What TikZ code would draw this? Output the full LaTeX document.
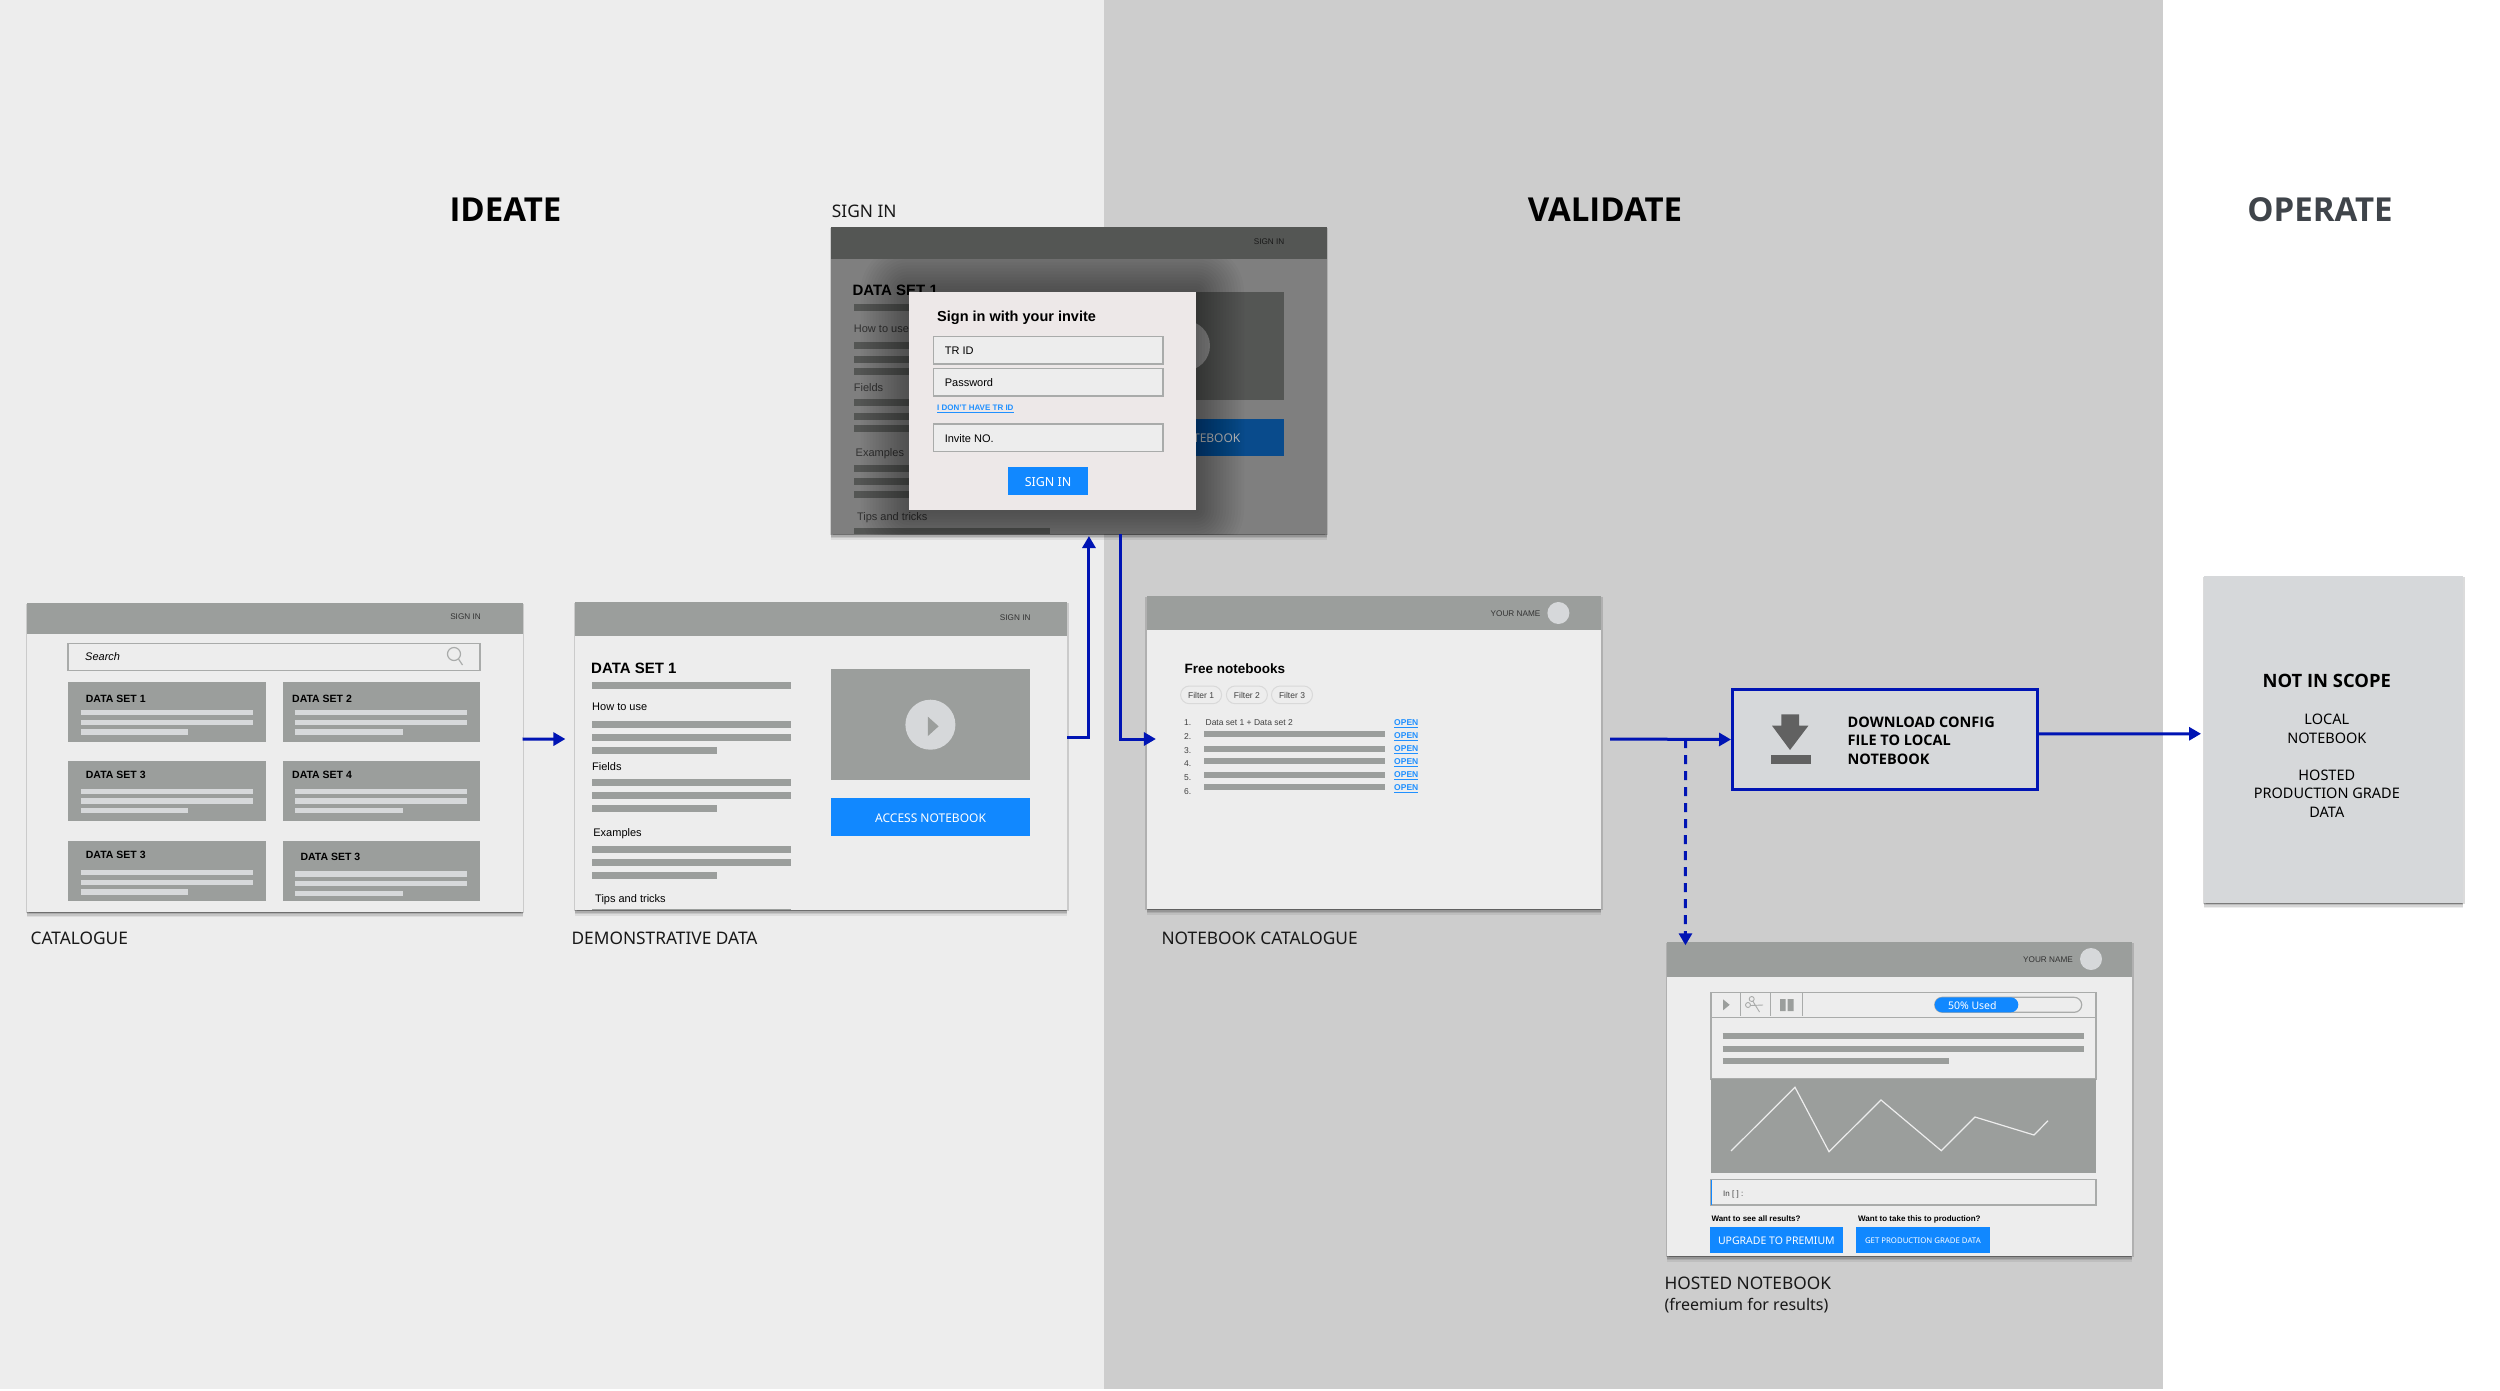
\documentclass[tikz,border=0pt]{standalone}
\usepackage{fontspec}
\setmainfont{Liberation Sans}
\newfontfamily\labelfont{Noto Sans}
\newfontfamily\labelbold{Open Sans}
\usetikzlibrary{arrows.meta,shadows}
\definecolor{ideatebg}{HTML}{EDEDED}
\definecolor{validatebg}{HTML}{CDCDCD}
\definecolor{headgrey}{HTML}{9B9E9C}
\definecolor{dimgrey}{HTML}{545654}
\definecolor{dimbody}{HTML}{7F7F7F}
\definecolor{palegrey}{HTML}{D6D8DA}
\definecolor{linegrey}{HTML}{A9ABAA}
\definecolor{btnblue}{HTML}{1188FF}
\definecolor{linkblue}{HTML}{2090FF}
\definecolor{flowblue}{HTML}{0014B4}
\definecolor{operategrey}{HTML}{3F444A}
\begin{document}
\begin{tikzpicture}[
    x=1pt,y=-1pt,
    softshadow/.style={drop shadow={shadow xshift=0pt,shadow yshift=-1pt,opacity=.12,fill=black},
                       drop shadow={shadow xshift=0pt,shadow yshift=-2.5pt,opacity=.12,fill=black},
                       drop shadow={shadow xshift=0pt,shadow yshift=-4pt,opacity=.1,fill=black},
                       drop shadow={shadow xshift=0pt,shadow yshift=-5.5pt,opacity=.07,fill=black},
                       drop shadow={shadow xshift=1.5pt,shadow yshift=-1pt,opacity=.14,fill=black},
                       drop shadow={shadow xshift=-1.5pt,shadow yshift=-1pt,opacity=.14,fill=black}},
    screen/.style={anchor=north west,fill=ideatebg,inner sep=0pt,outer sep=0pt,softshadow},
    panel/.style={anchor=north west,inner sep=0pt,outer sep=0pt},
    field/.style={panel,draw=linegrey,line width=1.6pt,fill=ideatebg},
    button/.style={panel,fill=btnblue,text=white},
    ui/.style={anchor=west,inner sep=0pt,text depth=0pt,yshift=-.7pt,font=\fontsize{#1}{#1}\selectfont},
    uiend/.style={ui=#1,anchor=east},
    uicentre/.style={ui=#1,anchor=center},
    lab/.style={anchor=west,inner sep=0pt,text depth=0pt,yshift=-.7pt,
                font=\labelfont\fontsize{#1}{#1}\selectfont},
    labcentre/.style={lab=#1,anchor=center},
    labbold/.style={lab=#1,font=\labelbold\bfseries\fontsize{#1}{#1}\selectfont},
    caption/.style={lab=17.3,text=black!90},
    stage/.style={anchor=center,inner sep=0pt,text depth=0pt,
                  font=\labelbold\bfseries\fontsize{33}{33}\selectfont},
    heavybar/.style={line width=7pt,draw=headgrey},
    dimbar/.style={line width=7pt,draw=dimgrey},
    thinbar/.style={line width=5.5pt,draw=palegrey},
    rowbar/.style={line width=6pt,draw=headgrey},
    flow/.style={-{Triangle[length=12pt,width=13pt]},line width=3pt,draw=flowblue}
  ]
    \useasboundingbox (0,0) rectangle (2500,1390);

    \fill[ideatebg] (0,0) rectangle (1104,1389);
    \fill[validatebg] (1104,0) rectangle (2163,1389);

    \node[stage] (ideate) at (505.5,210) {IDEATE};
    \node[stage] (validate) at (1605,210) {VALIDATE};
    \node[stage,text=operategrey] (operate) at (2320,210) {OPERATE};

    \node[screen,minimum width=495.5pt,minimum height=309pt] (catalogue) at (27,602.7) {};
    \fill[headgrey] (27,602.7) rectangle (522.5,634);
    \node[uiend=8.2,text=black!80] (catsign) at (481,615.7) {SIGN IN};
    \node[field,minimum width=412pt,minimum height=27pt] (search) at (68,643.3) {};
    \node[ui=11] (searchtext) at (85,656) {\itshape Search};
    \draw[linegrey,line width=1.2pt] (454,654) circle (6.5) (458.5,659) -- (462.5,665);
    \foreach \n/\x/\y in {a/68/681.7,b/282.5/681.7,c/68/761.3,d/282.5/761.3,e/68/841.3,f/282.5/841.3}
      \node[panel,fill=headgrey,minimum width=197.5pt,minimum height=60pt] (card\n) at (\x,\y) {};
    \foreach \n/\x/\y/\t in {a/85.7/697.7/1,b/292/697.7/2,c/85.7/773.7/3,d/292/773.7/4,e/85.7/854.3/3,f/300.4/855.7/3}
      \node[ui=10.5] (cardtitle\n) at (\x,\y) {\bfseries DATA SET \t};
    \foreach \a/\b/\c in {712.7/722.3/732,791.3/801/810.7,872.3/882.3/892}{
      \draw[thinbar] (80.7,\a) -- (252.9,\a);
      \draw[thinbar] (80.7,\b) -- (252.9,\b);
      \draw[thinbar] (80.7,\c) -- (188,\c);
    }
    \foreach \a/\b/\c in {712.7/722.3/732,791.3/801/810.7,874/883.7/893.3}{
      \draw[thinbar] (294.6,\a) -- (467,\a);
      \draw[thinbar] (294.6,\b) -- (467,\b);
      \draw[thinbar] (294.6,\c) -- (402.9,\c);
    }
    \node[caption] (cataloguelabel) at (30.4,937.7) {CATALOGUE};

    \node[screen,minimum width=491.6pt,minimum height=308pt] (demo) at (575.4,602) {};
    \fill[headgrey] (575.4,602) rectangle (1067,635.7);
    \node[uiend=8.2,text=black!80] (demosign) at (1030.7,617) {SIGN IN};
    \node[ui=15] (demotitle) at (591,667.3) {\bfseries DATA SET 1};
    \draw[heavybar] (592,685) -- (791.4,685);
    \node[ui=11] (demohow) at (592,706) {How to use};
    \node[ui=11] (demofields) at (592,766.3) {Fields};
    \node[ui=11] (demoexamples) at (593.2,832) {Examples};
    \node[ui=11] (demotips) at (595,897.7) {Tips and tricks};
    \foreach \a/\b/\c in {724.3/737.7/750.3,782.3/795.7/808.3,849/862.3/875}{
      \draw[heavybar] (592,\a) -- (791.4,\a);
      \draw[heavybar] (592,\b) -- (791.4,\b);
      \draw[heavybar] (592,\c) -- (716.8,\c);
    }
    \fill[headgrey] (592,908.5) rectangle (791.4,910);
    \node[panel,fill=headgrey,minimum width=199.7pt,minimum height=110.7pt] (demovideo) at (830.7,669.3) {};
    \fill[palegrey] (930.4,724.7) circle (25);
    \fill[headgrey] (927.9,716.7) -- (938.6,726.3) -- (927.9,736) -- cycle;
    \node[button,minimum width=199.7pt,minimum height=38pt] (demobtn) at (830.7,798.3) {};
    \node[labcentre=12,text=white] (demobtntext) at (demobtn.center) {ACCESS NOTEBOOK};
    \node[caption] (demolabel) at (571.4,937.7) {DEMONSTRATIVE DATA};

    \node[screen,fill=dimbody,minimum width=495.9pt,minimum height=307.3pt] (signin) at (831,226.7) {};
    \fill[dimgrey] (831,226.7) rectangle (1326.9,259);
    \node[caption] (signinlabel) at (831.7,210.3) {SIGN IN};
    \node[uiend=8.2,text=black!90] (signsign) at (1284.5,240.7) {SIGN IN};
    \node[ui=15] (signtitle) at (852.4,290) {\bfseries DATA SET 1};
    \draw[dimbar] (854,307.3) -- (1053,307.3);
    \node[ui=11,text=black!80] (signhow) at (853.7,327.7) {How to use};
    \node[ui=11,text=black!80] (signfields) at (853.7,387.3) {Fields};
    \node[ui=11,text=black!80] (signexamples) at (855.5,451.7) {Examples};
    \node[ui=11,text=black!80] (signtips) at (856.8,516.3) {Tips and tricks};
    \foreach \a/\b/\c in {345.7/359/371.7,402.7/416/428.7,468/481.3/494}{
      \draw[dimbar] (854,\a) -- (1053,\a);
      \draw[dimbar] (854,\b) -- (1053,\b);
      \draw[dimbar] (854,\c) -- (979,\c);
    }
    \fill[dimgrey] (854,528) rectangle (1049.7,534);
    \node[panel,fill=dimgrey,minimum width=200.2pt,minimum height=108.6pt] (signvideo) at (1084,291.7) {};
    \fill[black!42] (1185,345.7) circle (25);
    \node[panel,fill=btnblue!55!black,minimum width=200.2pt,minimum height=37pt] (signbtn) at (1084,418.7) {};
    \node[labcentre=12,text=black!25] (signbtntext) at (1185,437.2) {ACCESS NOTEBOOK};

    \begin{scope}
      \clip (831,259) rectangle (1326.9,534);
      \foreach \s in {3,6,...,48}
        \fill[black,opacity=.022,rounded corners=\s pt] (908.5-\s,292.3-\s) rectangle (1196+\s,510+\s);
    \end{scope}
    \node[panel,fill=ideatebg!98!red,minimum width=287.5pt,minimum height=217.7pt] (dialog) at (908.5,292.3) {};
    \node[ui=14.5] (dialogtitle) at (937,316) {\bfseries Sign in with your invite};
    \node[field,minimum width=229.7pt,minimum height=27.4pt] (trid) at (933.3,336.3) {};
    \node[field,minimum width=229.7pt,minimum height=27.4pt] (password) at (933.3,368.3) {};
    \node[field,minimum width=229.7pt,minimum height=27.4pt] (invite) at (933.3,424) {};
    \node[ui=11] (tridtext) at (944.6,350) {TR ID};
    \node[ui=11] (passwordtext) at (944.6,382) {Password};
    \node[ui=11] (invitetext) at (944.6,437.7) {Invite NO.};
    \node[ui=8,text=linkblue] (nottrid) at (937,407.3) {\bfseries\underline{I DON'T HAVE TR ID}};
    \node[button,minimum width=80.2pt,minimum height=27.4pt] (signbutton) at (1008,467.3) {};
    \node[labcentre=12.5,text=white] (signbuttontext) at (signbutton.center) {SIGN IN};

    \node[screen,minimum width=454.1pt,minimum height=313.6pt] (notebooks) at (1146.9,595.7) {};
    \fill[headgrey] (1146.9,595.7) rectangle (1601,630.3);
    \node[uiend=8.2,text=black!80] (notename) at (1540.5,613.3) {YOUR NAME};
    \node[fill=palegrey,circle,minimum size=22pt,inner sep=0pt] (noteavatar) at (1558.4,613) {};
    \node[ui=13.5] (notetitle) at (1184.4,667.7) {\bfseries Free notebooks};
    \foreach \i/\x in {1/1180.6,2/1226.4,3/1271.5}{
      \node[panel,draw=black!15,line width=1pt,rounded corners=8.8pt,minimum width=41pt,minimum height=17.7pt] (filter\i) at (\x,686) {};
      \node[uicentre=8.5,text=black!75] (filtertext\i) at (filter\i.center) {Filter \i};
    }
    \foreach \i/\y in {1/722,2/736,3/750,4/763.3,5/777.3,6/791}
      \node[ui=8.5,text=black!75] (num\i) at (1184,\y) {\i.};
    \node[ui=8.5,text=black!75] (firstset) at (1205.4,722) {Data set 1 + Data set 2};
    \foreach \y in {734,749,761,775,787}
      \draw[rowbar] (1204,\y) -- (1384.5,\y);
    \foreach \i/\y in {1/722,2/735.3,3/748,4/761.3,5/774.3,6/787.3}
      \node[ui=8.5,text=linkblue] (open\i) at (1394,\y) {\bfseries\underline{OPEN}};
    \node[caption] (noteslabel) at (1161.3,937.7) {NOTEBOOK CATALOGUE};

    \node[panel,fill=palegrey,draw=flowblue,line width=3pt,minimum width=305pt,minimum height=99.4pt] (download) at (1732.5,689.8) {};
    \fill[black!62] (1781.4,714.3) -- (1799.2,714.3) -- (1799.2,725.7) -- (1808.4,725.7)
      -- (1790,750) -- (1772,725.7) -- (1781.4,725.7) -- cycle;
    \fill[black!62] (1770.5,755.3) rectangle (1811,764.3);
    \node[labbold=14.5] (downloadtext1) at (1847.4,721.3) {DOWNLOAD CONFIG};
    \node[labbold=14.5] (downloadtext2) at (1847.4,740) {FILE TO LOCAL};
    \node[labbold=14.5] (downloadtext3) at (1847.4,758.7) {NOTEBOOK};

    \node[screen,minimum width=465.3pt,minimum height=313.7pt] (hosted) at (1667,942.3) {};
    \fill[headgrey] (1667,942.3) rectangle (2132.3,977);
    \node[uiend=8.2,text=black!80] (hostname) at (2073,959.3) {YOUR NAME};
    \node[fill=palegrey,circle,minimum size=22pt,inner sep=0pt] (hostavatar) at (2091,959) {};
    \node[panel,draw=linegrey,line width=1.4pt,minimum width=385pt,minimum height=86.7pt] (cellbox) at (1711,992.3) {};
    \draw[linegrey,line width=1.4pt] (1711,1017.7) -- (2096,1017.7);
    \foreach \x in {1740.3,1770.7,1802.3}
      \draw[linegrey,line width=1.2pt] (\x,992.3) -- (\x,1016);
    \fill[headgrey] (1723,999.3) -- (1729.7,1004.8) -- (1723,1010.3) -- cycle;
    \draw[linegrey,line width=.9pt] (1748,1005) circle (2.5) (1751.7,999) circle (2.5)
      (1750.5,1005.5) -- (1763,1005) (1753,1001.5) -- (1759.5,1012);
    \fill[headgrey] (1780,999) rectangle (1785.7,1011) (1787.7,999) rectangle (1793.7,1011);
    \node[panel,draw=linegrey,line width=1.2pt,rounded corners=7.5pt,minimum width=147pt,minimum height=15pt] (meter) at (1934.7,997.3) {};
    \node[panel,fill=btnblue,rounded corners=7.5pt,minimum width=83.6pt,minimum height=15pt] (meterfill) at (1934.7,997.3) {};
    \node[labcentre=10.5,text=white] (metertext) at (1972.3,1005) {50\% Used};
    \draw[rowbar] (1722.7,1036.3) -- (2084.3,1036.3);
    \draw[rowbar] (1722.7,1048.7) -- (2084.3,1048.7);
    \draw[rowbar] (1722.7,1060.7) -- (1948.7,1060.7);
    \node[panel,fill=headgrey,minimum width=385pt,minimum height=94pt] (chart) at (1711,1079) {};
    \draw[ideatebg,line width=1.2pt] (1731,1151) -- (1795,1087.3) -- (1829,1151.7) -- (1881,1100)
      -- (1941.3,1150.7) -- (1975,1117) -- (2034,1135) -- (2048,1120.7);
    \node[panel,draw=linegrey,line width=1.4pt,minimum width=385pt,minimum height=25.3pt] (inputcell) at (1711,1179.7) {};
    \draw[btnblue,line width=1pt] (1711,1179.7) -- (1711,1205);
    \node[ui=8,text=black!75] (inputtext) at (1723,1192.7) {In [ ] :};
    \node[ui=8] (wantresults) at (1711.3,1218.3) {\bfseries Want to see all results?};
    \node[ui=8] (wantprod) at (1858,1218.3) {\bfseries Want to take this to production?};
    \node[button,minimum width=133.3pt,minimum height=25.7pt] (upgrade) at (1709.7,1227.3) {};
    \node[labcentre=10.5,text=white] (upgradetext) at (upgrade.center) {UPGRADE TO PREMIUM};
    \node[button,minimum width=133.7pt,minimum height=25.7pt] (getdata) at (1856,1227.3) {};
    \node[labcentre=7.8,text=white] (getdatatext) at (getdata.center) {GET PRODUCTION GRADE DATA};
    \node[caption] (hostedlabel) at (1664.3,1282.3) {HOSTED NOTEBOOK};
    \node[lab=16,text=black!90] (hostedlabelb) at (1664.3,1303.3) {(freemium for results)};

    \node[screen,fill=palegrey,minimum width=259pt,minimum height=326.7pt] (noscope) at (2204,576) {};
    \node[labbold=18.4,anchor=center] (noscopetitle) at (2326.8,680) {NOT IN SCOPE};
    \node[labcentre=14.5,align=center,font=\labelfont\fontsize{14.5}{18.6}\selectfont] (noscopelocal) at (2326.8,728) {LOCAL\\NOTEBOOK};
    \node[labcentre=14.5,align=center,font=\labelfont\fontsize{14.5}{18.6}\selectfont] (noscopehosted) at (2326.8,792.7) {HOSTED\\PRODUCTION GRADE\\DATA};

    \coordinate (branch) at (1685.5,739);

    \draw[flow] ([yshift=18pt]catalogue.east) -- ([xshift=-10pt,yshift=17pt]demo.west);
    \draw[flow] ([yshift=19pt]demo.east) -| ([xshift=10pt,yshift=-2pt]signin.south);
    \draw[flow] ([xshift=42pt]signin.south) |- ([xshift=9pt,yshift=13.5pt]notebooks.west);
    \draw[flow] ([xshift=9pt,yshift=13.5pt]notebooks.east) -- ([xshift=-1.5pt]download.west);
    \draw[flow] ([yshift=5.6pt]download.east) -- ([xshift=-3pt,yshift=5.6pt]noscope.west);
    \draw[flow,dash pattern=on 9pt off 7pt] (branch) -- ([xshift=-214.2pt,yshift=-3pt]hosted.north);
  \end{tikzpicture}
\end{document}
